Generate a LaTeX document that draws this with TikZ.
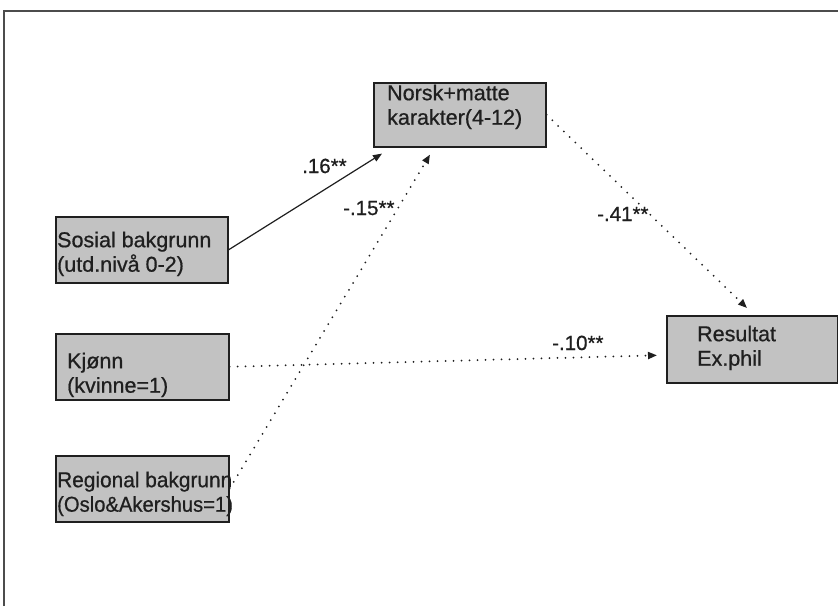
\documentclass[tikz,border=0pt]{standalone}
\usepackage{fontspec}
\setmainfont{Liberation Sans}
\newfontfamily\heavysans[FakeBold=0.7]{Liberation Sans}
\usetikzlibrary{arrows.meta}
\definecolor{boxfill}{gray}{0.76}
\definecolor{ink}{gray}{0.12}
\newcommand{\topstrut}{\rule{0pt}{16pt}}
\begin{document}
\begin{tikzpicture}[x=1pt,y=-1pt,
  varbox/.style={draw=ink, line width=1.6pt, fill=boxfill, rectangle,
    inner sep=0pt, anchor=north west},
  vartext/.style={anchor=north west, inner sep=0pt, align=left, text=ink,
    font=\heavysans\fontsize{21.5}{24.5}\selectfont},
  coef/.style={anchor=base west, inner sep=0pt, text=ink,
    font=\heavysans\fontsize{20.5}{24}\selectfont},
  tip/.style={-{Triangle[length=9pt,width=7pt]}},
  solidpath/.style={tip, draw=ink, line width=1.2pt},
  dotpath/.style={tip, draw=ink, line width=2pt, line cap=round,
    dash pattern=on 0pt off 8pt}]
\useasboundingbox (0,0) rectangle (838,606);
\fill[white] (0,0) rectangle (838,606);

% outer frame (top and left edges)
\draw[black!70, line width=2pt] (4,606) -- (4,11) -- (838,11);

% variable boxes
\node[varbox, minimum width=172pt, minimum height=64pt] (nm) at (373,82) {};
\node[varbox, minimum width=172pt, minimum height=66pt] (sos) at (55,216) {};
\node[varbox, minimum width=173pt, minimum height=66pt] (kj) at (55,333) {};
\node[varbox, minimum width=173pt, minimum height=66pt] (rg) at (55,455) {};
\node[varbox, minimum width=171pt, minimum height=67pt] (res) at (666,315) {};

% box texts
\node[vartext] (nmT) at (387,84) {\topstrut Norsk+matte\\karakter(4-12)};
\node[vartext] (sosT) at (57,231) {\topstrut Sosial bakgrunn\\(utd.nivå 0-2)};
\node[vartext] (kjT) at (67,352) {\topstrut Kjønn\\(kvinne=1)};
\node[vartext] (rgT) at (57,471) {\topstrut \scalebox{0.97}[1]{Regional bakgrunn}\\\scalebox{0.94}[1]{(Oslo\&Akershus=1)}};
\node[vartext] (resT) at (697,325) {\topstrut Resultat\\Ex.phil};

% arrow end points
\coordinate (nmA) at ([shift={(9,6)}]nm.south west);
\coordinate (nmB) at ([shift={(57,7)}]nm.south west);
\coordinate (resA) at ([shift={(81,-7)}]res.north west);
\coordinate (resB) at ([shift={(-9,6)}]res.west);

% paths
\draw[solidpath] (sos.east) -- (nmA);
\draw[dotpath] (rg.east) -- (nmB);
\draw[dotpath] (nm.east) -- (resA);
\draw[dotpath] (kj.east) -- (resB);

% coefficients
\node[coef] (c1) at (302,173) {.16**};
\node[coef] (c2) at (343,215) {-.15**};
\node[coef] (c3) at (597,221) {-.41**};
\node[coef] (c4) at (552,350) {-.10**};
\end{tikzpicture}
\end{document}
